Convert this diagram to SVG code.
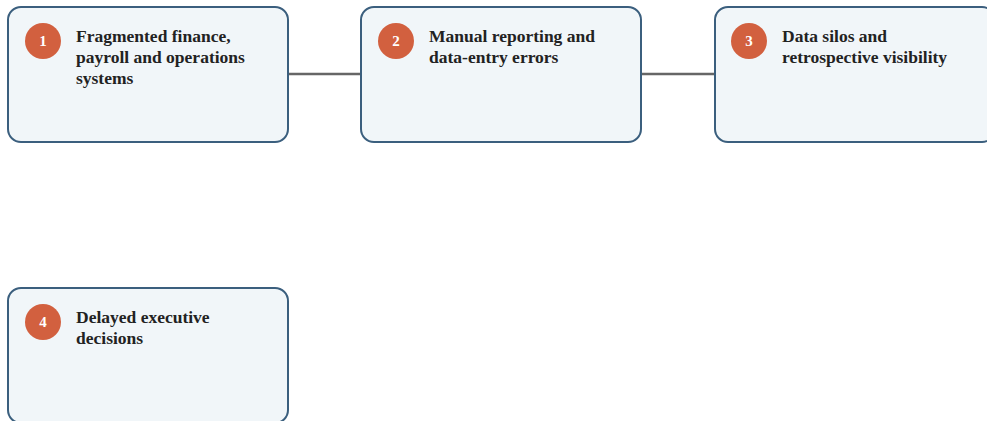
<svg xmlns="http://www.w3.org/2000/svg" width="987" height="421" viewBox="0 0 987 421">
<style>
.box{fill:#f1f6f9;stroke:#3b5f7e;stroke-width:2}
.badge{fill:#d2603f}
.num{font-family:"Liberation Serif",serif;font-weight:bold;font-size:15px;fill:#ffffff;text-anchor:middle}
.lbl{font-family:"Liberation Serif",serif;font-weight:bold;font-size:17.5px;fill:#222222}
.conn{stroke:#666666;stroke-width:2.5;fill:none}
</style>
<rect width="987" height="421" fill="#ffffff"/>
<g id="connectors">
<line class="conn" x1="288" y1="74" x2="361" y2="74"/>
<line class="conn" x1="641" y1="74" x2="715" y2="74"/>
</g>
<g id="node1">
<rect class="box" x="8" y="7" width="280" height="135" rx="13"/>
<circle class="badge" cx="43" cy="41" r="18"/>
<text class="num" x="43" y="46">1</text>
<text class="lbl" x="76" y="42">Fragmented finance,</text>
<text class="lbl" x="76" y="63">payroll and operations</text>
<text class="lbl" x="76" y="84">systems</text>
</g>
<g id="node2">
<rect class="box" x="361" y="7" width="280" height="135" rx="13"/>
<circle class="badge" cx="396" cy="41" r="18"/>
<text class="num" x="396" y="46">2</text>
<text class="lbl" x="429" y="42">Manual reporting and</text>
<text class="lbl" x="429" y="63">data-entry errors</text>
</g>
<g id="node3">
<rect class="box" x="715" y="7" width="280" height="135" rx="13"/>
<circle class="badge" cx="749" cy="41" r="18"/>
<text class="num" x="749" y="46">3</text>
<text class="lbl" x="782" y="42">Data silos and</text>
<text class="lbl" x="782" y="63">retrospective visibility</text>
</g>
<g id="node4">
<rect class="box" x="8" y="288" width="280" height="135" rx="13"/>
<circle class="badge" cx="43" cy="322" r="18"/>
<text class="num" x="43" y="327">4</text>
<text class="lbl" x="76" y="323">Delayed executive</text>
<text class="lbl" x="76" y="344">decisions</text>
</g>
</svg>
